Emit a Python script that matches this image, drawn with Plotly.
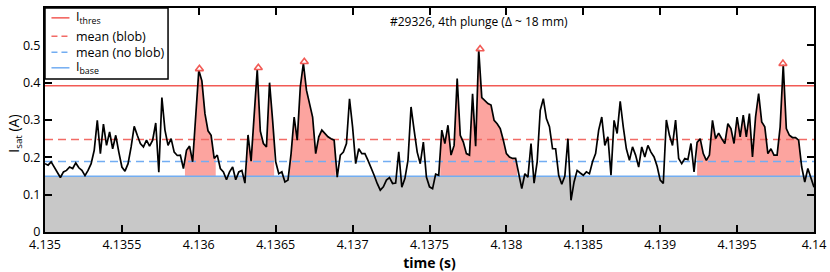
import numpy as np
import plotly.graph_objects as go

# ---- data ----
T0 = 4.135
DT = 2e-5
isat = [
    0.183, 0.179, 0.188, 0.174, 0.161, 0.146, 0.161, 0.165, 0.174, 0.170,
    0.185, 0.172, 0.165, 0.151, 0.165, 0.183, 0.219, 0.299, 0.210, 0.289,
    0.232, 0.268, 0.223, 0.259, 0.214, 0.174, 0.163, 0.183, 0.228, 0.283,
    0.259, 0.237, 0.228, 0.246, 0.230, 0.246, 0.292, 0.160, 0.360, 0.273,
    0.232, 0.250, 0.214, 0.205, 0.206, 0.170, 0.219, 0.230, 0.188, 0.299,
    0.433, 0.405, 0.317, 0.271, 0.259, 0.197, 0.206, 0.170, 0.161, 0.140,
    0.161, 0.174, 0.140, 0.161, 0.165, 0.131, 0.260, 0.190, 0.310, 0.435,
    0.270, 0.237, 0.228, 0.400, 0.299, 0.188, 0.156, 0.161, 0.134, 0.139,
    0.210, 0.308, 0.246, 0.389, 0.452, 0.380, 0.344, 0.308, 0.210, 0.255,
    0.273, 0.264, 0.255, 0.250, 0.246, 0.147, 0.206, 0.214, 0.237, 0.357,
    0.281, 0.183, 0.223, 0.210, 0.210, 0.192, 0.174, 0.152, 0.130, 0.112,
    0.121, 0.139, 0.146, 0.130, 0.131, 0.215, 0.120, 0.143, 0.192, 0.335,
    0.273, 0.214, 0.183, 0.241, 0.147, 0.121, 0.116, 0.155, 0.152, 0.273,
    0.237, 0.286, 0.206, 0.232, 0.411, 0.259, 0.241, 0.210, 0.206, 0.370,
    0.230, 0.488, 0.360, 0.353, 0.344, 0.340, 0.299, 0.290, 0.277, 0.246,
    0.210, 0.201, 0.197, 0.197, 0.152, 0.116, 0.156, 0.147, 0.237, 0.131,
    0.188, 0.326, 0.357, 0.304, 0.282, 0.223, 0.223, 0.152, 0.128, 0.150,
    0.250, 0.085, 0.134, 0.165, 0.158, 0.152, 0.161, 0.156, 0.188, 0.210,
    0.273, 0.308, 0.232, 0.255, 0.152, 0.299, 0.264, 0.350, 0.281, 0.223,
    0.192, 0.228, 0.206, 0.174, 0.228, 0.201, 0.232, 0.214, 0.201, 0.176,
    0.139, 0.130, 0.300, 0.259, 0.232, 0.300, 0.197, 0.183, 0.197, 0.194,
    0.237, 0.161, 0.240, 0.250, 0.210, 0.192, 0.206, 0.299, 0.250, 0.265,
    0.250, 0.237, 0.290, 0.277, 0.237, 0.308, 0.255, 0.313, 0.255, 0.317,
    0.201, 0.308, 0.371, 0.295, 0.282, 0.210, 0.223, 0.206, 0.206, 0.282,
    0.448, 0.277, 0.259, 0.253, 0.253, 0.246, 0.174, 0.134, 0.170, 0.146,
    0.120,
]

I_thres = 0.392
mean_blob = 0.248
mean_noblob = 0.189
I_base = 0.149

blob_start = [4.13591, 4.13631, 4.13659, 4.13757, 4.13924]
blob_end = [4.13611, 4.13649, 4.13689, 4.13807, 4.13991]

peak_t = [4.136004, 4.136387, 4.136686, 4.137829, 4.139798]
peak_v = [0.437, 0.440, 0.456, 0.490, 0.451]

x_ticks = [4.135, 4.1355, 4.136, 4.1365, 4.137, 4.1375, 4.138, 4.1385, 4.139, 4.1395, 4.14]
x_labels = ["4.135", "4.1355", "4.136", "4.1365", "4.137", "4.1375", "4.138", "4.1385", "4.139", "4.1395", "4.14"]
y_ticks = [0, 0.1, 0.2, 0.3, 0.4, 0.5]
y_labels = ["0", "0.1", "0.2", "0.3", "0.4", "0.5"]

legend_names = ["I<sub>thres</sub>", "mean (blob)", "mean (no blob)", "I<sub>base</sub>"]
title_text = "#29326, 4th plunge (\u0394 ~ 18 mm)"
x_title = "<b>time (s)</b>"
y_title = "I<sub>sat</sub> (A)"

# ---- figure ----
t = T0 + DT * np.arange(len(isat))
y = np.array(isat)
x0, x1 = x_ticks[0], x_ticks[-1]

RED = "#f25a55"
RED_D = "#f26b66"
BLUE = "#72adf2"
PINK = "#fca49f"
GRAY = "#c8c8c8"
FONT = "Open Sans"

fig = go.Figure()

# gray base area
fig.add_trace(go.Scatter(x=[x0, x1], y=[I_base, I_base], mode="lines",
                         line=dict(width=0), fill="tozeroy", fillcolor=GRAY,
                         showlegend=False, hoverinfo="skip"))

# pink blob areas
for ts, te in zip(blob_start, blob_end):
    inside = (t > ts) & (t < te)
    tt = np.concatenate([[ts], t[inside], [te]])
    yy = np.maximum(np.interp(tt, t, y), I_base)
    px = np.concatenate([tt, tt[::-1]])
    py = np.concatenate([yy, np.full(len(tt), I_base)])
    fig.add_trace(go.Scatter(x=px, y=py, mode="lines", line=dict(width=0),
                             fill="toself", fillcolor=PINK,
                             showlegend=False, hoverinfo="skip"))

line_styles = [
    dict(color=RED, width=1.5),
    dict(color=RED_D, width=1.5, dash="8px,5px"),
    dict(color=BLUE, width=1.5, dash="8px,5px"),
    dict(color=BLUE, width=1.5),
]
levels = [I_thres, mean_blob, mean_noblob, I_base]
for lev, st, nm in zip(levels, line_styles, legend_names):
    fig.add_trace(go.Scatter(x=[x0, x1], y=[lev, lev], mode="lines",
                             line=st, name=nm, showlegend=False))

fig.add_trace(go.Scatter(x=t, y=y, mode="lines",
                         line=dict(color="black", width=1.7),
                         showlegend=False))

fig.add_trace(go.Scatter(x=peak_t, y=peak_v, mode="markers",
                         marker=dict(symbol="triangle-up-open", size=7,
                                     color=RED, line=dict(width=1.6, color=RED)),
                         showlegend=False))

fig.add_annotation(x=4.13782, y=0.565, xref="x", yref="y", text=title_text,
                   showarrow=False, font=dict(family=FONT, size=12, color="black"))

# y-axis title
fig.add_annotation(x=-0.04, y=0.44, xref="paper", yref="paper", text=y_title,
                   textangle=-90, showarrow=False, xanchor="center", yanchor="middle",
                   font=dict(family=FONT, size=14, color="black"))

# ---- manual legend (paper coordinates) ----
fig.add_shape(type="rect", xref="paper", yref="paper", x0=0, x1=0.160, y0=0.683, y1=1,
              line=dict(color="black", width=1.5), fillcolor="white", layer="above")
row_y = [0.956, 0.874, 0.803, 0.733]
for ry, st, nm in zip(row_y, line_styles, legend_names):
    fig.add_shape(type="line", xref="paper", yref="paper", x0=0.0084, x1=0.0318,
                  y0=ry, y1=ry, line=dict(color=st["color"], width=1.5,
                                          dash="6px,4px" if "dash" in st else "solid"),
                  layer="above")
    fig.add_annotation(x=0.038, y=ry, xref="paper", yref="paper", text=nm,
                       showarrow=False, xanchor="left", yanchor="middle",
                       font=dict(family=FONT, size=12.5, color="black"))

axis_common = dict(showline=True, linecolor="black", linewidth=2, mirror="ticks",
                   ticks="inside", ticklen=7, tickwidth=1.5, tickcolor="black",
                   showgrid=False, zeroline=False, automargin=False,
                   tickfont=dict(family=FONT, size=12.5, color="black"))

fig.update_layout(
    template="none",
    width=830, height=272,
    margin=dict(l=45, r=16, t=8, b=40),
    paper_bgcolor="white", plot_bgcolor="white",
    font=dict(family=FONT, size=13, color="black"),
    xaxis=dict(range=[x0, x1], tickvals=x_ticks, ticktext=x_labels,
               title=dict(text=x_title, font=dict(family=FONT, size=14), standoff=2),
               **axis_common),
    yaxis=dict(range=[0, 0.6], tickvals=y_ticks, ticktext=y_labels, **axis_common),
    showlegend=False,
)

fig.write_html("out.html", config={"displayModeBar": False},
               post_script="document.body.style.margin='0';")
